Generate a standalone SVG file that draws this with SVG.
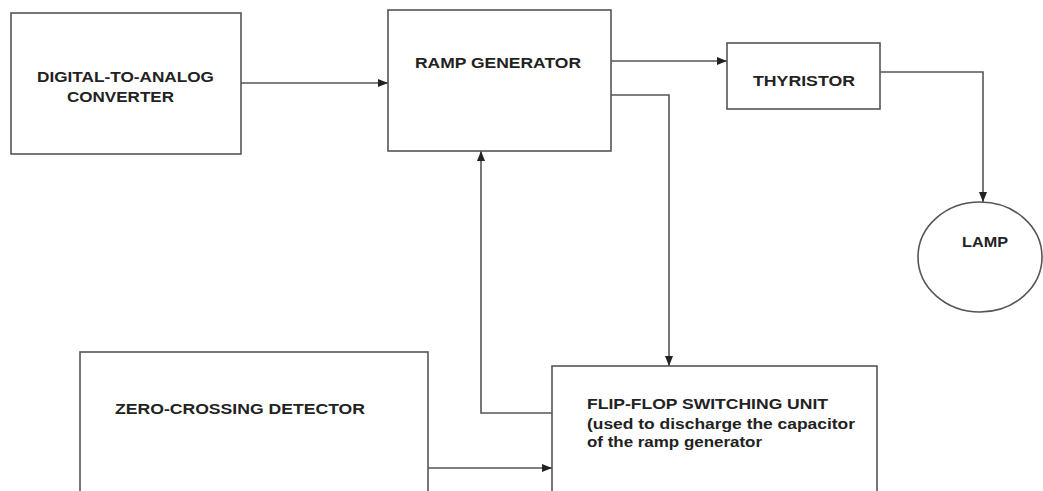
<svg xmlns="http://www.w3.org/2000/svg" width="1043" height="491" viewBox="0 0 1043 491">
<defs>
<marker id="ah" markerWidth="10" markerHeight="8" refX="10" refY="4" orient="auto" markerUnits="userSpaceOnUse">
<path d="M0,0 L10,4 L0,8 Z" fill="#222"/>
</marker>
<style>
.box{fill:#fff;stroke:#555;stroke-width:1.6}
.wire{fill:none;stroke:#555;stroke-width:1.6}
.t{font-family:"Liberation Sans",Arial,sans-serif;font-weight:bold;font-size:14px;fill:#222}
</style>
</defs>
<rect width="1043" height="491" fill="#fff"/>
<g id="connectors">
<path class="wire" d="M241,83 H388" marker-end="url(#ah)"/>
<path class="wire" d="M611,61 H727" marker-end="url(#ah)"/>
<path class="wire" d="M880,72 H983 V202" marker-end="url(#ah)"/>
<path class="wire" d="M611,95 H669 V366" marker-end="url(#ah)"/>
<path class="wire" d="M552,413 H481 V151" marker-end="url(#ah)"/>
<path class="wire" d="M428,468 H552" marker-end="url(#ah)"/>
</g>
<g id="dac">
<rect class="box" x="11" y="13" width="230" height="141"/>
<text class="t" x="37" y="82" textLength="177" lengthAdjust="spacingAndGlyphs">DIGITAL-TO-ANALOG</text>
<text class="t" x="67" y="102" textLength="107" lengthAdjust="spacingAndGlyphs">CONVERTER</text>
</g>
<g id="ramp">
<rect class="box" x="388" y="10" width="223" height="141"/>
<text class="t" x="415" y="68" textLength="166" lengthAdjust="spacingAndGlyphs">RAMP GENERATOR</text>
</g>
<g id="thyristor">
<rect class="box" x="727" y="43" width="153" height="66"/>
<text class="t" x="753" y="86" textLength="102" lengthAdjust="spacingAndGlyphs">THYRISTOR</text>
</g>
<g id="lamp">
<ellipse class="box" cx="980" cy="257" rx="62" ry="55"/>
<text class="t" x="962" y="247" textLength="46" lengthAdjust="spacingAndGlyphs">LAMP</text>
</g>
<g id="zcd">
<rect class="box" x="80" y="352" width="348" height="150"/>
<text class="t" x="115" y="414" textLength="250" lengthAdjust="spacingAndGlyphs">ZERO-CROSSING DETECTOR</text>
</g>
<g id="flipflop">
<rect class="box" x="552" y="366" width="325" height="140"/>
<text class="t" x="587" y="409" textLength="241" lengthAdjust="spacingAndGlyphs">FLIP-FLOP SWITCHING UNIT</text>
<text class="t" x="587" y="429" textLength="268" lengthAdjust="spacingAndGlyphs">(used to discharge the capacitor</text>
<text class="t" x="587" y="447" textLength="175" lengthAdjust="spacingAndGlyphs">of the ramp generator</text>
</g>
</svg>
